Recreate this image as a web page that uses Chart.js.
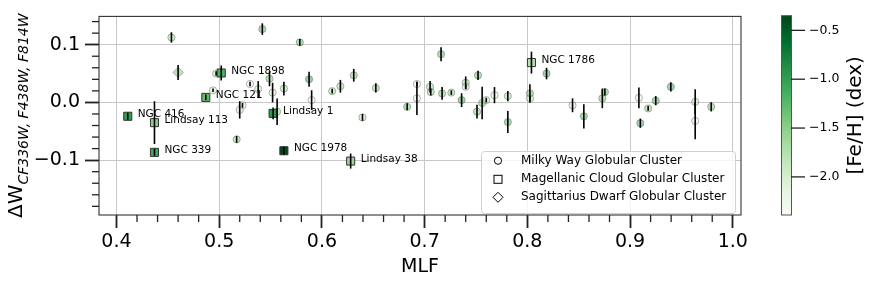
<!DOCTYPE html>
<html><head><meta charset="utf-8">
<script src="https://cdn.jsdelivr.net/npm/chart.js@4/dist/chart.umd.min.js"></script>
<style>html,body{margin:0;padding:0;background:#fff}canvas{display:block}</style>
</head><body>
<canvas id="c" width="872" height="282"></canvas>
<script>
// ---------- DATA ----------
// Milky Way globular clusters
const mwMLF = [0.4535,0.542,0.5785,0.497,0.494,0.530,0.538,0.549,0.552,0.563,0.5227,0.520,0.517,0.5564,0.5875,0.590,0.610,0.618,0.631,0.6525,0.6395,0.683,0.6925,0.6925,0.7053,0.706,0.716,0.717,0.726,0.736,0.740,0.740,0.752,0.751,0.756,0.760,0.768,0.781,0.781,0.8025,0.8025,0.8187,0.844,0.855,0.873,0.8755,0.9086,0.9176,0.910,0.925,0.9397,0.9634,0.9634,0.979];
const mwDW  = [0.1125,0.127,0.104,0.050,0.021,0.032,0.023,0.041,0.017,0.024,-0.005,-0.013,-0.064,-0.016,0.040,0.004,0.0195,0.028,0.047,0.025,-0.026,-0.0076,0.032,0.007,0.027,0.018,0.0835,0.0155,0.017,0.004,0.034,0.027,0.047,-0.016,-0.001,0.004,0.0126,0.011,-0.034,0.0156,0.007,0.050,-0.005,-0.024,0.007,0.018,0.008,-0.0104,-0.036,0.003,0.027,0.001,-0.032,-0.0076];
const mwErr = [0.009,0.010,0.006,0.004,0.003,0.004,0.014,0.013,0.017,0.012,0.004,0.015,0.006,0.023,0.013,0.017,0.004,0.011,0.011,0.008,0.006,0.006,0.004,0.029,0.010,0.006,0.012,0.011,0.004,0.012,0.011,0.004,0.008,0.012,0.028,0.004,0.014,0.009,0.019,0.016,0.004,0.010,0.012,0.021,0.017,0.006,0.018,0.004,0.008,0.008,0.008,0.022,0.032,0.008];
const mwFeH = [-1.6,-1.2,-1.3,-1.8,-2.0,-2.2,-1.9,-1.4,-2.0,-1.7,-2.1,-1.9,-1.5,-1.6,-1.0,-2.3,-1.7,-1.6,-1.4,-1.5,-1.8,-1.3,-2.2,-2.2,-1.6,-1.5,-1.3,-1.4,-1.5,-1.1,-1.6,-2.0,-1.3,-1.5,-1.4,-1.8,-2.2,-1.7,-1.2,-1.3,-1.8,-1.1,-2.0,-1.2,-1.4,-1.3,-2.2,-1.5,-1.1,-1.2,-1.1,-1.8,-2.1,-1.4];
// Magellanic Cloud globular clusters
const mcNames = ['NGC 1898','NGC 121','NGC 416','Lindsay 113','NGC 339','Lindsay 1','NGC 1978','Lindsay 38','NGC 1786'];
const mcMLF = [0.502,0.487,0.411,0.437,0.437,0.5525,0.563,0.628,0.804];
const mcDW  = [0.051,0.0087,-0.024,-0.035,-0.0865,-0.019,-0.0837,-0.1016,0.069];
const mcErr = [0.013,0.005,0.006,0.037,0.006,0.010,0.007,0.013,0.019];
const mcFeH = [-1.18,-1.28,-1.00,-1.50,-1.12,-0.95,-0.38,-1.59,-1.75];
// Sagittarius dwarf globular clusters
const sgrMLF = [0.460];
const sgrDW  = [0.052];
const sgrErr = [0.013];
const sgrFeH = [-1.49];
// ticks
const xTicks = [0.4,0.5,0.6,0.7,0.8,0.9,1.0];
const yTicks = [-0.1,0.0,0.1];
const cbTicks = [-2.0,-1.5,-1.0,-0.5];
const feRange = [-2.39,-0.35];
const legendLabels = ['Milky Way Globular Cluster','Magellanic Cloud Globular Cluster','Sagittarius Dwarf Globular Cluster'];

// ---------- helpers ----------
const FONT = "'DejaVu Sans', sans-serif";
const GREENS = ['#f7fcf5','#e5f5e0','#c7e9c0','#a1d99b','#74c476','#41ab5d','#238b45','#006d2c','#00441b'];
function hex(h){return [parseInt(h.substr(1,2),16),parseInt(h.substr(3,2),16),parseInt(h.substr(5,2),16)];}
function greens(t){t=Math.max(0,Math.min(1,t));const p=t*8;const i=Math.min(7,Math.floor(p));const f=p-i;const a=hex(GREENS[i]),b=hex(GREENS[i+1]);return a.map((v,k)=>Math.round(v+(b[k]-v)*f));}
function feColor(v,alpha){const c=greens((v-feRange[0])/(feRange[1]-feRange[0]));return `rgba(${c[0]},${c[1]},${c[2]},${alpha})`;}
function fmt(v){const s=Math.abs(v).toFixed(1);return v<-1e-9?'\u2212'+s:s;}
function pts(xs,ys){return xs.map((x,i)=>({x:x,y:ys[i]}));}

const errs = [mwErr, mcErr, sgrErr];

// ---------- plugins ----------
const bgPlugin = {id:'bg',beforeDraw(c){const ctx=c.ctx;ctx.save();ctx.fillStyle='#fff';ctx.fillRect(0,0,c.width,c.height);ctx.restore();}};

const errPlugin = {id:'err',afterDatasetsDraw(c){
  const ctx=c.ctx, xs=c.scales.x, ys=c.scales.y;
  ctx.save(); ctx.strokeStyle='#000'; ctx.lineWidth=1.6;
  c.data.datasets.forEach((ds,di)=>{
    ds.data.forEach((p,i)=>{
      const e=errs[di][i]; const px=xs.getPixelForValue(p.x);
      ctx.beginPath(); ctx.moveTo(px,ys.getPixelForValue(p.y-e)); ctx.lineTo(px,ys.getPixelForValue(p.y+e)); ctx.stroke();
    });
  });
  // names
  ctx.fillStyle='#000'; ctx.font='10.5px '+FONT; ctx.textBaseline='middle'; ctx.textAlign='left';
  mcNames.forEach((n,i)=>{ctx.fillText(n, xs.getPixelForValue(mcMLF[i])+10, ys.getPixelForValue(mcDW[i])-2);});
  // frame + minor ticks
  const a=c.chartArea;
  ctx.strokeStyle='#333'; ctx.lineWidth=1.1;
  ctx.strokeRect(a.left,a.top,a.right-a.left,a.bottom-a.top);
  ctx.lineWidth=1.3; ctx.strokeStyle='#222';
  for(let v=0.38; v<=1.0101; v+=0.02){const r=Math.round(v*100)/100; if(Math.abs(r*10-Math.round(r*10))<1e-6) continue; if(r<xs.min||r>xs.max) continue; const px=xs.getPixelForValue(r); ctx.beginPath(); ctx.moveTo(px,a.bottom); ctx.lineTo(px,a.bottom+7); ctx.stroke();}
  for(let v=-0.2; v<=0.16; v+=0.02){const r=Math.round(v*100)/100; if(Math.abs(r*10-Math.round(r*10))<1e-6) continue; if(r<ys.min||r>ys.max) continue; const py=ys.getPixelForValue(r); ctx.beginPath(); ctx.moveTo(a.left,py); ctx.lineTo(a.left-7,py); ctx.stroke();}
  ctx.restore();
}};

const decoPlugin = {id:'deco',afterDraw(c){
  const ctx=c.ctx; const a=c.chartArea;
  ctx.save();
  // y title
  ctx.translate(22,(a.top+a.bottom)/2); ctx.rotate(-Math.PI/2);
  const main='\u0394W', sub='CF336W, F438W, F814W';
  ctx.font='20px '+FONT; const w1=ctx.measureText(main).width;
  ctx.font='italic 14px '+FONT; const w2=ctx.measureText(sub).width;
  const x0=-(w1+w2)/2; ctx.fillStyle='#000'; ctx.textBaseline='alphabetic'; ctx.textAlign='left';
  ctx.font='20px '+FONT; ctx.fillText(main,x0,0);
  ctx.font='italic 14px '+FONT; ctx.fillText(sub,x0+w1,6);
  ctx.restore();

  // legend
  ctx.save();
  const lx=481, ly=151, lw=254, lh=62;
  ctx.fillStyle='rgba(255,255,255,0.8)'; ctx.strokeStyle='#d0d0d0'; ctx.lineWidth=1;
  ctx.beginPath(); if(ctx.roundRect){ctx.roundRect(lx+0.5,ly+0.5,lw,lh,3);}else{ctx.rect(lx+0.5,ly+0.5,lw,lh);} ctx.fill(); ctx.stroke();
  const rows=[160.7,179.3,197.3]; const mx=498;
  ctx.strokeStyle='#000'; ctx.lineWidth=1;
  ctx.beginPath(); ctx.arc(mx,rows[0],3.6,0,Math.PI*2); ctx.stroke();
  ctx.strokeRect(mx-4,rows[1]-4,8,8);
  ctx.beginPath(); ctx.moveTo(mx-5,rows[2]); ctx.lineTo(mx,rows[2]-5); ctx.lineTo(mx+5,rows[2]); ctx.lineTo(mx,rows[2]+5); ctx.closePath(); ctx.stroke();
  ctx.fillStyle='#000'; ctx.font='12px '+FONT; ctx.textBaseline='middle'; ctx.textAlign='left';
  legendLabels.forEach((t,i)=>ctx.fillText(t,521,rows[i]));
  ctx.restore();

  // colorbar
  ctx.save();
  const cx0=781, cx1=791, ct=a.top-0.7, cb=a.bottom;
  const g=ctx.createLinearGradient(0,cb,0,ct);
  GREENS.forEach((h,i)=>g.addColorStop(i/8,h));
  ctx.fillStyle=g; ctx.fillRect(cx0,ct,cx1-cx0,cb-ct);
  ctx.strokeStyle='#555'; ctx.lineWidth=1; ctx.strokeRect(cx0+0.5,ct,cx1-cx0,cb-ct);
  ctx.strokeStyle='#222'; ctx.lineWidth=1.3; ctx.fillStyle='#000'; ctx.font='12.5px '+FONT; ctx.textBaseline='middle'; ctx.textAlign='left';
  cbTicks.forEach(v=>{const py=cb-(v-feRange[0])/(feRange[1]-feRange[0])*(cb-ct); ctx.beginPath(); ctx.moveTo(cx1,py); ctx.lineTo(cx1+14,py); ctx.stroke(); ctx.fillText(fmt(v),cx1+18,py);});
  ctx.translate(856,(ct+cb)/2); ctx.rotate(-Math.PI/2); ctx.font='20px '+FONT; ctx.textAlign='center'; ctx.textBaseline='middle';
  ctx.fillText('[Fe/H] (dex)',0,0);
  ctx.restore();
}};

// ---------- chart ----------
new Chart(document.getElementById('c'),{
  type:'scatter',
  data:{datasets:[
    {label:legendLabels[0], data:pts(mwMLF,mwDW), order:3, pointStyle:'circle', pointRadius:3.6,
     pointBackgroundColor:mwFeH.map(v=>feColor(v,0.5)), pointBorderColor:'rgba(90,90,90,0.45)', pointBorderWidth:1},
    {label:legendLabels[1], data:pts(mcMLF,mcDW), order:1, pointStyle:'rect', pointRadius:5.7,
     pointBackgroundColor:mcFeH.map(v=>feColor(v,1)), pointBorderColor:'#333', pointBorderWidth:1},
    {label:legendLabels[2], data:pts(sgrMLF,sgrDW), order:2, pointStyle:'rectRot', pointRadius:5.2,
     pointBackgroundColor:sgrFeH.map(v=>feColor(v,0.55)), pointBorderColor:'rgba(90,90,90,0.45)', pointBorderWidth:1}
  ]},
  options:{
    responsive:false, animation:false, devicePixelRatio:1,
    layout:{padding:{top:16,right:131,left:0,bottom:0}},
    plugins:{legend:{display:false},tooltip:{enabled:false}},
    scales:{
      x:{type:'linear',min:0.383,max:1.008,
        afterBuildTicks:s=>{s.ticks=xTicks.map(v=>({value:v}));},
        afterFit:s=>{s.height=67;},
        grid:{color:'#c8c8c8',lineWidth:1,tickColor:'#222',tickWidth:1.8,tickLength:13},
        border:{display:false},
        ticks:{font:{family:FONT,size:19},color:'#000',padding:3,maxRotation:0,autoSkip:false,callback:v=>fmt(v)},
        title:{display:true,text:'MLF',font:{family:FONT,size:19},color:'#000',padding:{top:0,bottom:4}}},
      y:{type:'linear',min:-0.195,max:0.149,
        afterBuildTicks:s=>{s.ticks=yTicks.map(v=>({value:v}));},
        afterFit:s=>{s.width=99;},
        grid:{color:'#c8c8c8',lineWidth:1,tickColor:'#222',tickWidth:1.8,tickLength:14},
        border:{display:false},
        ticks:{font:{family:FONT,size:19},color:'#000',padding:5,autoSkip:false,callback:v=>fmt(v)}}
    }
  },
  plugins:[bgPlugin,errPlugin,decoPlugin]
});
</script>
</body></html>
